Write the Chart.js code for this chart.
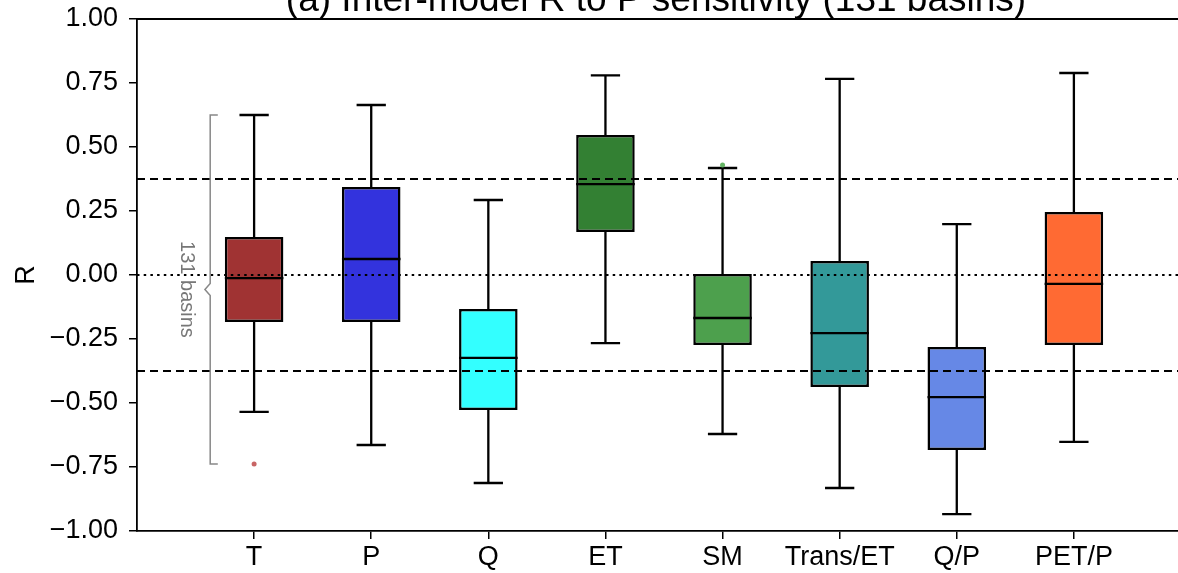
<!DOCTYPE html>
<html>
<head>
<meta charset="utf-8">
<script src="https://cdn.jsdelivr.net/npm/chart.js@4"></script>
<style>
  html, body { margin: 0; padding: 0; overflow: hidden; background: #fff; }
  #wrap { width: 1200px; height: 573px; }
</style>
</head>
<body>
<div id="wrap"><canvas id="chart"></canvas></div>
<script>
'use strict';

// box plot stats
let categories = ['T', 'P', 'Q', 'ET', 'SM', 'Trans/ET', 'Q/P', 'PET/P'];
let whiskerLow = [-0.535, -0.664, -0.8125, -0.266, -0.621, -0.832, -0.934, -0.652];
let q1Values = [-0.184, -0.184, -0.527, 0.168, -0.273, -0.4375, -0.684, -0.273];
let medianValues = [-0.012, 0.0625, -0.324, 0.355, -0.168, -0.227, -0.477, -0.035];
let q3Values = [0.148, 0.344, -0.133, 0.547, 0.004, 0.055, -0.281, 0.246];
let whiskerHigh = [0.625, 0.664, 0.293, 0.78, 0.418, 0.766, 0.199, 0.789];
let boxColors = ['#a03333', '#3333dd', '#33ffff', '#338033', '#4da04d', '#339999', '#6688e6', '#ff6a33'];

let outlierPos = [1, 5];
let outlierValues = [-0.738, 0.43];
let outlierColors = ['#c86464', '#64b464'];

let yTicks = [-1, -0.75, -0.5, -0.25, 0, 0.25, 0.5, 0.75, 1];
let threshold = 0.375;

let canvasElem = document.getElementById('chart');
let fontFam = '"Liberation Sans", Arial, sans-serif';

function fmt(v) {
  let s = Math.abs(v).toFixed(2);
  return v < 0 ? '\u2212' + s : s;
}

let boxParts = {
  id: 'boxParts',
  beforeDatasetsDraw(chart) {
    let ctx = chart.ctx, x = chart.scales.x, y = chart.scales.y;
    ctx.save();
    ctx.strokeStyle = '#000';
    ctx.lineWidth = 2.3;
    for (let i = 0; i < categories.length; i++) {
      let cx = x.getPixelForValue(i + 1);
      let half = x.getPixelForValue(i + 1.125) - cx;
      ctx.beginPath();
      ctx.moveTo(cx, y.getPixelForValue(q3Values[i]));
      ctx.lineTo(cx, y.getPixelForValue(whiskerHigh[i]));
      ctx.moveTo(cx - half, y.getPixelForValue(whiskerHigh[i]));
      ctx.lineTo(cx + half, y.getPixelForValue(whiskerHigh[i]));
      ctx.moveTo(cx, y.getPixelForValue(q1Values[i]));
      ctx.lineTo(cx, y.getPixelForValue(whiskerLow[i]));
      ctx.moveTo(cx - half, y.getPixelForValue(whiskerLow[i]));
      ctx.lineTo(cx + half, y.getPixelForValue(whiskerLow[i]));
      ctx.stroke();
    }
    ctx.restore();
  },
  afterDatasetsDraw(chart) {
    let ctx = chart.ctx, x = chart.scales.x, y = chart.scales.y;
    let area = chart.chartArea;
    ctx.save();

    // medians
    ctx.strokeStyle = '#000';
    ctx.lineWidth = 2.3;
    for (let i = 0; i < categories.length; i++) {
      let l = x.getPixelForValue(i + 0.75), r = x.getPixelForValue(i + 1.25);
      let my = y.getPixelForValue(medianValues[i]);
      ctx.beginPath();
      ctx.moveTo(l, my);
      ctx.lineTo(r, my);
      ctx.stroke();
    }

    // +/- threshold and zero lines
    ctx.lineWidth = 2;
    ctx.setLineDash([8, 5]);
    [threshold, -threshold].forEach(v => {
      let py = y.getPixelForValue(v);
      ctx.beginPath();
      ctx.moveTo(area.left, py);
      ctx.lineTo(area.right, py);
      ctx.stroke();
    });
    ctx.setLineDash([2.5, 4.2]);
    let zy = y.getPixelForValue(0);
    ctx.beginPath();
    ctx.moveTo(area.left, zy);
    ctx.lineTo(area.right, zy);
    ctx.stroke();
    ctx.setLineDash([]);

    // bracket spanning T values
    let bx = x.getPixelForValue(0.625), bEnd = x.getPixelForValue(0.69), bNotch = x.getPixelForValue(0.58);
    let top = y.getPixelForValue(whiskerHigh[0]), bot = y.getPixelForValue(outlierValues[0]);
    let mid = (top + bot) / 2;
    ctx.strokeStyle = '#888';
    ctx.lineWidth = 1.5;
    ctx.beginPath();
    ctx.moveTo(bEnd, top);
    ctx.lineTo(bx, top);
    ctx.lineTo(bx, mid - 6);
    ctx.lineTo(bNotch, mid);
    ctx.lineTo(bx, mid + 6);
    ctx.lineTo(bx, bot);
    ctx.lineTo(bEnd, bot);
    ctx.stroke();

    ctx.translate(x.getPixelForValue(0.42), mid);
    ctx.rotate(Math.PI / 2);
    ctx.fillStyle = '#777';
    ctx.font = '20px ' + fontFam;
    ctx.textAlign = 'center';
    ctx.textBaseline = 'middle';
    ctx.fillText('131 basins', 0, 0);
    ctx.restore();

    // top spine and (clipped) title
    ctx.save();
    ctx.strokeStyle = '#000';
    ctx.lineWidth = 1.8;
    ctx.beginPath();
    ctx.moveTo(area.left, area.top);
    ctx.lineTo(area.right, area.top);
    ctx.stroke();
    ctx.fillStyle = '#000';
    ctx.font = '37px ' + fontFam;
    ctx.textAlign = 'center';
    ctx.textBaseline = 'alphabetic';
    ctx.fillText('(a) Inter-model R to P sensitivity (131 basins)', 656, 11);
    ctx.restore();
  }
};

let chartObj = {
  data: {
    datasets: [{
      type: 'bar',
      data: categories.map((c, i) => ({ x: i + 1, y: [q1Values[i], q3Values[i]] })),
      backgroundColor: boxColors,
      borderColor: '#000',
      borderWidth: 2.5,
      borderSkipped: false,
      categoryPercentage: 1,
      barPercentage: 0.5
    },
    {
      type: 'scatter',
      data: outlierPos.map((p, i) => ({ x: p, y: outlierValues[i] })),
      backgroundColor: outlierColors,
      borderWidth: 0,
      pointRadius: 2.5
    }]
  },
  options: {
    responsive: true,
    maintainAspectRatio: false,
    animation: false,
    layout: { padding: { left: 0, right: 9, top: 19, bottom: 0 } },
    plugins: { legend: { display: false }, tooltip: { enabled: false } },
    scales: {
      x: {
        type: 'linear',
        min: 0,
        max: 9,
        offset: false,
        afterBuildTicks: s => { s.ticks = categories.map((c, i) => ({ value: i + 1 })); },
        afterFit: s => { s.height = 42; s.paddingLeft = 0; s.paddingRight = 0; },
        ticks: {
          callback: v => categories[v - 1],
          color: '#000',
          font: { size: 27, family: fontFam },
          padding: 2,
          maxRotation: 0,
          autoSkip: false
        },
        grid: { offset: false, drawOnChartArea: false, drawTicks: true, tickLength: 8, color: '#000', lineWidth: 1.5 },
        border: { display: true, color: '#000', width: 1.8 }
      },
      y: {
        min: -1,
        max: 1,
        afterBuildTicks: s => { s.ticks = yTicks.map(v => ({ value: v })); },
        afterFit: s => { s.width = 137; s.paddingTop = 0; s.paddingBottom = 0; },
        ticks: {
          callback: v => fmt(v),
          color: '#000',
          font: { size: 27, family: fontFam },
          padding: 11
        },
        title: {
          display: true,
          text: 'R',
          color: '#000',
          font: { size: 27, family: fontFam },
          padding: { top: 10, bottom: 0 }
        },
        grid: { drawOnChartArea: false, drawTicks: true, tickLength: 8, color: '#000', lineWidth: 1.5 },
        border: { display: true, color: '#000', width: 1.8 }
      }
    }
  },
  plugins: [boxParts]
};

new Chart(canvasElem, chartObj);
</script>
</body>
</html>
